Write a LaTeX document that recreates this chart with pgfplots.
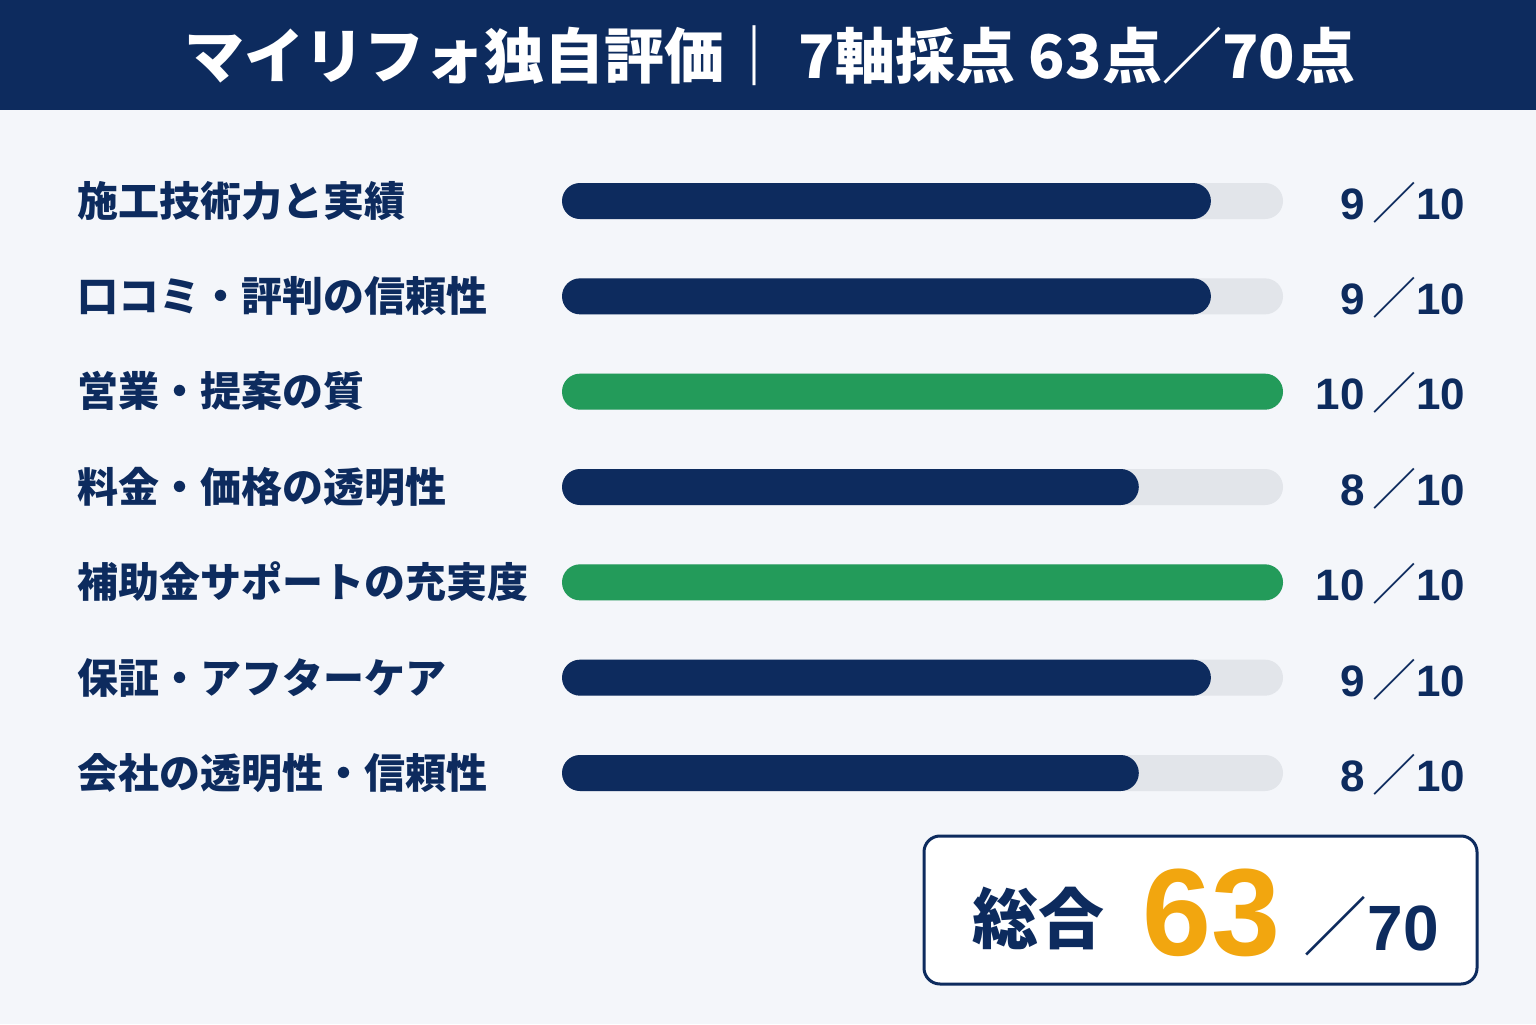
\documentclass[border=0pt]{standalone}
\usepackage{fontspec}
\usepackage{pgfplots}
\pgfplotsset{compat=1.18}
\setmainfont{Liberation Sans}
\newfontfamily\jp{Noto Sans CJK JP}
\definecolor{navy}{HTML}{0D2B5E}
\definecolor{grn}{HTML}{239B5A}
\definecolor{track}{HTML}{E2E5EA}
\definecolor{bg}{HTML}{F4F6FA}
\definecolor{org}{HTML}{F2A60F}
\newcommand{\lbl}[1]{{\jp\bfseries\fontsize{20.5}{24}\selectfont #1}}
\newcommand{\score}[1]{{\bfseries\fontsize{22}{26}\selectfont #1}}
\begin{document}
\begin{tikzpicture}[x=0.5pt,y=0.5pt]
\fill[bg] (0,0) rectangle (1536,1024);
\fill[navy] (0,914) rectangle (1536,1024);
\node[text=white,font=\jp\bfseries\fontsize{30}{34}\selectfont] at (770,968) {マイリフォ独自評価｜ 7軸採点 63点／70点};
\begin{axis}[
  at={(281pt,125.5pt)}, anchor=south west,
  scale only axis, width=360.5pt, height=286pt,
  xmin=0, xmax=10, ymin=0, ymax=6, y dir=reverse,
  hide axis, clip=false,
  xbar, bar width=18pt, bar shift=0pt,
]
\addplot[fill=track, draw=none, rounded corners=9pt] coordinates {(10,0) (10,1) (10,2) (10,3) (10,4) (10,5) (10,6)};
\addplot[fill=navy, draw=none, rounded corners=9pt] coordinates {(9,0) (9,1) (8,3) (9,5) (8,6)};
\addplot[fill=grn, draw=none, rounded corners=9pt] coordinates {(10,2) (10,4)};
\end{axis}
\begin{scope}[every node/.style={text=navy}]
\node[anchor=west] at (70,823) {\lbl{施工技術力と実績}};
\node[anchor=west] at (70,728) {\lbl{口コミ・評判の信頼性}};
\node[anchor=west] at (70,633) {\lbl{営業・提案の質}};
\node[anchor=west] at (70,537) {\lbl{料金・価格の透明性}};
\node[anchor=west] at (70,442) {\lbl{補助金サポートの充実度}};
\node[anchor=west] at (70,346) {\lbl{保証・アフターケア}};
\node[anchor=west] at (70,251) {\lbl{会社の透明性・信頼性}};
\node[anchor=east] at (1472,821) {\score{9\,{\jp\mdseries／}10}};
\node[anchor=east] at (1472,726) {\score{9\,{\jp\mdseries／}10}};
\node[anchor=east] at (1472,631) {\score{10\,{\jp\mdseries／}10}};
\node[anchor=east] at (1472,535) {\score{8\,{\jp\mdseries／}10}};
\node[anchor=east] at (1472,440) {\score{10\,{\jp\mdseries／}10}};
\node[anchor=east] at (1472,344) {\score{9\,{\jp\mdseries／}10}};
\node[anchor=east] at (1472,249) {\score{8\,{\jp\mdseries／}10}};
\end{scope}
\draw[navy, line width=1.5pt, fill=white, rounded corners=8pt] (924,40) rectangle (1477,188);
\node[text=navy, font=\jp\bfseries\fontsize{33}{38}\selectfont] at (1038,106) {総合};
\node[text=org, anchor=base west, inner sep=0pt, font=\bfseries\fontsize{62}{70}\selectfont] at (1142,69) {63};
\node[text=navy, anchor=base west, inner sep=0pt, font=\bfseries\fontsize{32}{38}\selectfont] at (1303,74) {{\jp\mdseries／}70};
\end{tikzpicture}
\end{document}
